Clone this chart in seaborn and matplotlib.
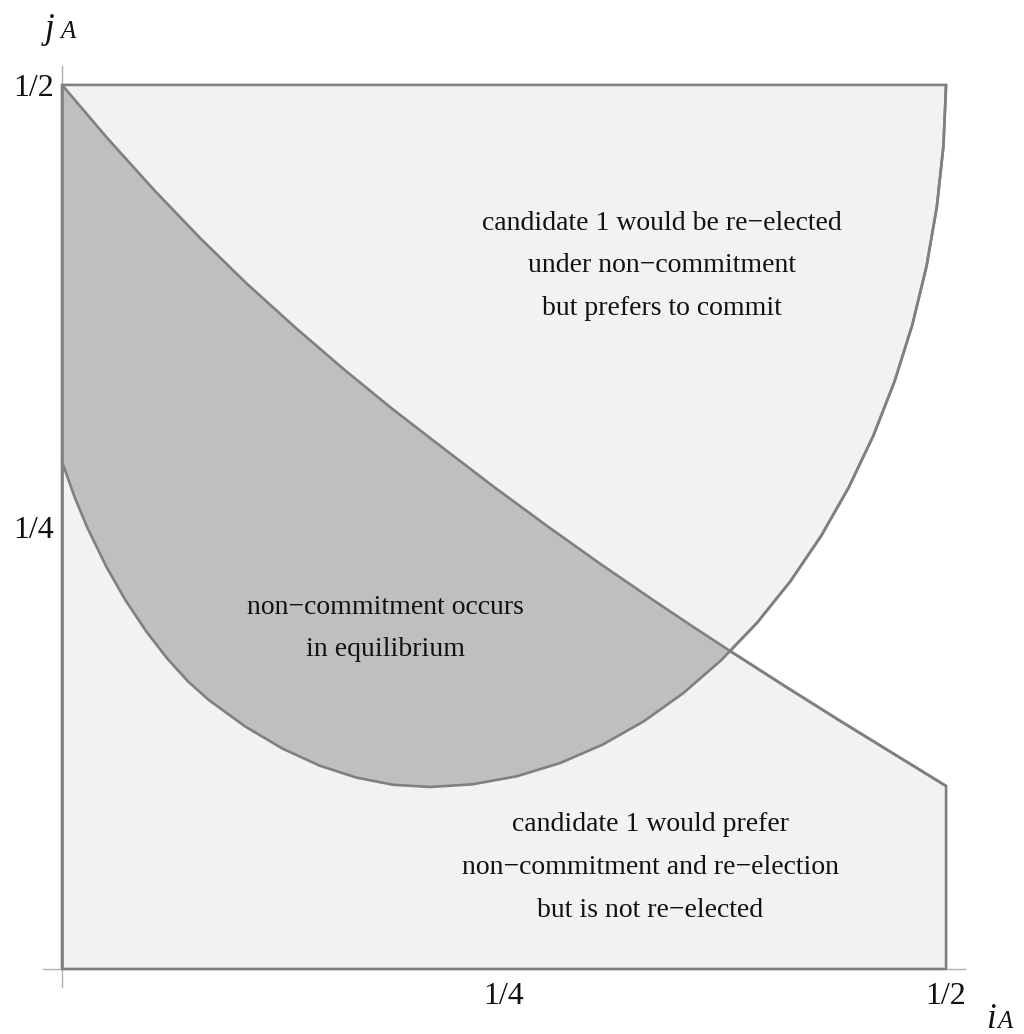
import numpy as np
import pandas as pd
import matplotlib
matplotlib.use("Agg")
import matplotlib.pyplot as plt
import seaborn as sns

# Boundary of the commitment condition (falling, slightly convex curve)
commit_x = [0.0, 0.02602, 0.05204, 0.07805, 0.10407, 0.13165, 0.15922, 0.18679,
            0.21437, 0.24434, 0.27432, 0.30430, 0.33428, 0.35605, 0.37783,
            0.40851, 0.43920, 0.46988, 0.5]
commit_y = [0.5, 0.46946, 0.44061, 0.41346, 0.38801, 0.36307, 0.33931, 0.31680,
            0.29553, 0.27262, 0.25057, 0.22924, 0.20871, 0.19412, 0.17986,
            0.16018, 0.14089, 0.12200, 0.1035]

# Boundary of the re-election condition (U-shaped curve)
elect_x = [0.0, 0.00707, 0.01414, 0.02497, 0.03580, 0.04760, 0.05939, 0.07118,
           0.08298, 0.10385, 0.12472, 0.14559, 0.16640, 0.18727, 0.20814,
           0.23216, 0.25712, 0.28171, 0.30577, 0.32911, 0.35155, 0.37294,
           0.37783, 0.39312, 0.41192, 0.42923, 0.44489, 0.45879, 0.47082,
           0.48088, 0.48889, 0.49477, 0.49850, 0.5]
elect_y = [0.28693, 0.26705, 0.25000, 0.22771, 0.20871, 0.19101, 0.17574, 0.16273,
           0.15215, 0.13699, 0.12466, 0.11505, 0.10826, 0.10419, 0.10294,
           0.10445, 0.10897, 0.11647, 0.12689, 0.14014, 0.15614, 0.17475,
           0.17986, 0.19584, 0.21924, 0.24477, 0.27226, 0.30147, 0.33219,
           0.36420, 0.39723, 0.43105, 0.46539, 0.5]

x_cross = 0.37783
tick_vals = [0.25, 0.5]
tick_text = ["1/4", "1/2"]

region_labels = [
    (0.3394, 0.3976, "candidate 1 would be re\u2212elected\nunder non\u2212commitment\nbut prefers to commit"),
    (0.1827, 0.1925, "non\u2212commitment occurs\nin equilibrium"),
    (0.3326, 0.0575, "candidate 1 would prefer\nnon\u2212commitment and re\u2212election\nbut is not re\u2212elected"),
]

sns.set_theme(style="white")
serif = ["Liberation Serif", "DejaVu Serif"]
plt.rcParams["font.family"] = serif

W, H = 1024, 1034
fig = plt.figure(figsize=(W / 100, H / 100), dpi=100)
ax = fig.add_axes([43 / W, 47 / H, 922 / W, 921 / H])
ax.set_xlim(-0.01075, 0.5107)
ax.set_ylim(-0.01018, 0.5107)

commit = pd.DataFrame({"x": commit_x, "y": commit_y})
elect = pd.DataFrame({"x": elect_x, "y": elect_y})

edge = "#808080"
light = "#f2f2f2"
dark = "#bfbfbf"
lw = 1.9

# light region: the square minus the area right of the U and above the falling curve
c_right = commit[commit.x >= x_cross].iloc[::-1]
e_right = elect[elect.x >= x_cross]
lx = [0.0, 0.5] + list(c_right.x) + list(e_right.x) + [0.0]
ly = [0.0, 0.0] + list(c_right.y) + list(e_right.y) + [0.5]
ax.fill(lx, ly, facecolor=light, edgecolor=edge, linewidth=lw, zorder=1,
        joinstyle="round")

# dark region: between the two curves, left of where they cross
c_left = commit[commit.x <= x_cross]
e_left = elect[elect.x <= x_cross].iloc[::-1]
dx = list(c_left.x) + list(e_left.x)
dy = list(c_left.y) + list(e_left.y)
ax.fill(dx, dy, facecolor=dark, edgecolor="none", zorder=1.2)

line_kw = dict(ax=ax, color=edge, linewidth=lw, sort=False, zorder=3,
               solid_joinstyle="round", solid_capstyle="round")
sns.lineplot(data=commit, x="x", y="y", **line_kw)
sns.lineplot(data=elect, x="x", y="y", **line_kw)
ax.plot([0, 0], [0, 0.5], color=edge, linewidth=lw, zorder=3, solid_capstyle="butt")

for x, y, s in region_labels:
    ax.text(x, y, s, ha="center", va="center", fontsize=20, family=serif,
            linespacing=1.93, color="#111111", zorder=4)

# axes crossing at the origin
for side in ["top", "right"]:
    ax.spines[side].set_visible(False)
ax.spines["left"].set_position(("data", 0))
ax.spines["bottom"].set_position(("data", 0))
for side in ["left", "bottom"]:
    ax.spines[side].set_color("#b0b0b0")
    ax.spines[side].set_linewidth(1.0)
    ax.spines[side].set_zorder(0.5)

ax.set_xticks(tick_vals)
ax.set_xticklabels(tick_text)
ax.set_yticks(tick_vals)
ax.set_yticklabels(tick_text)
ax.tick_params(axis="both", direction="in", length=5, width=1.0, color="#444444",
               labelsize=23, labelcolor="#111111")
ax.tick_params(axis="x", pad=9)
ax.tick_params(axis="y", pad=6)
for lab in ax.get_xticklabels() + ax.get_yticklabels():
    lab.set_family(serif)
ax.set_xlabel("")
ax.set_ylabel("")
ax.grid(False)
ax.set_facecolor("none")

# axis names
fig.text(45 / W, 1 - 38 / H, "j", fontsize=25, style="italic", family=serif, va="baseline", color="#111111")
fig.text(60 / W, 1 - 38 / H, "A", fontsize=18, style="italic", family=serif, va="baseline", color="#111111")
fig.text(986 / W, 1 - 1028 / H, "i", fontsize=25, style="italic", family=serif, va="baseline", color="#111111")
fig.text(997 / W, 1 - 1028 / H, "A", fontsize=18, style="italic", family=serif, va="baseline", color="#111111")

fig.savefig("out.png", dpi=100, facecolor="white")
